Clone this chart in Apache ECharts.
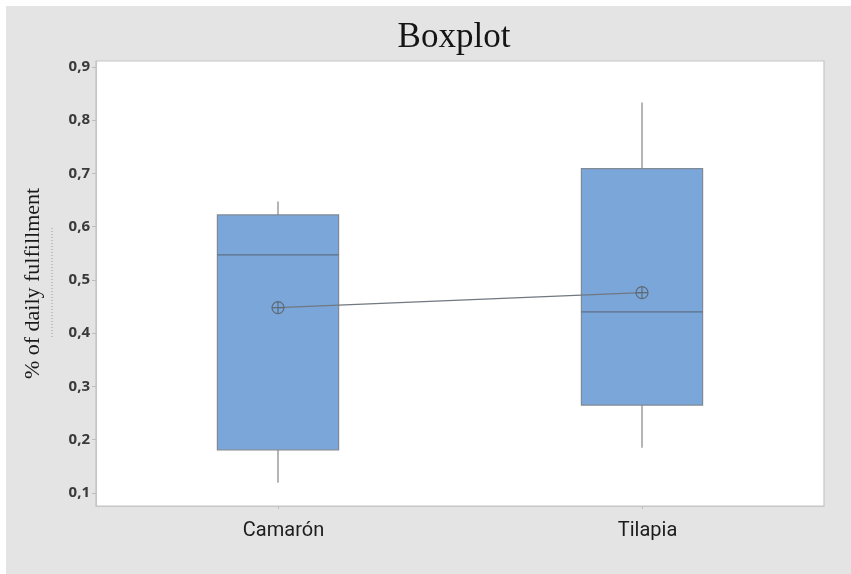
<!DOCTYPE html>
<html>
<head>
<meta charset="utf-8">
<script src="https://cdn.jsdelivr.net/npm/echarts@6/dist/echarts.min.js"></script>
<style>
  html, body { margin: 0; padding: 0; background: #ffffff; }
  #chart { width: 851px; height: 574px; }
</style>
</head>
<body>
<div id="chart"></div>
<script>
// Groups on the x axis
const categories = ['Camarón', 'Tilapia'];
// Five-number summaries per group: [min, Q1, median, Q3, max]
const camaronStats = [0.119, 0.181, 0.547, 0.622, 0.647];
const tilapiaStats = [0.185, 0.265, 0.440, 0.709, 0.833];
// Group means, joined by a line
const means = [0.448, 0.476];
// Y tick labels
const yTicks = [0.1, 0.2, 0.3, 0.4, 0.5, 0.6, 0.7, 0.8, 0.9];

const boxRows = [camaronStats, tilapiaStats].map((s, i) => [i].concat(s));

const chart = echarts.init(document.getElementById('chart'));

chart.setOption({
  backgroundColor: '#ffffff',
  animation: false,
  title: {
    text: 'Boxplot',
    left: 449,
    textAlign: 'center',
    top: 15,
    textStyle: { fontFamily: 'Liberation Serif', fontWeight: 'normal', fontSize: 35, color: '#151515' }
  },
  graphic: [
    { type: 'rect', z: -10, silent: true, shape: { x: 6, y: 6, width: 851, height: 574 }, style: { fill: '#e4e4e4' } },
    { type: 'line', z: 1, silent: true, shape: { x1: 52, y1: 228, x2: 52, y2: 338 }, style: { stroke: '#9a9a9a', lineWidth: 1, lineDash: [1, 2] } }
  ],
  grid: {
    left: 96, right: 27, top: 61, bottom: 68,
    show: true, backgroundColor: '#ffffff', borderColor: '#c6c6c6', borderWidth: 1.2
  },
  xAxis: {
    type: 'category',
    data: categories,
    boundaryGap: true,
    axisLine: { lineStyle: { color: '#c6c6c6', width: 1.2 } },
    axisTick: { show: true, alignWithLabel: true, length: 3, lineStyle: { color: '#bdbdbd' } },
    axisLabel: { margin: 15, padding: [0, 0, 0, 11], fontFamily: 'Roboto', fontSize: 20, color: '#1c1c1c' },
    splitLine: { show: false }
  },
  yAxis: {
    type: 'value',
    min: 0.0755,
    max: 0.911,
    name: '% of daily fulfillment',
    nameLocation: 'middle',
    nameRotate: 90,
    nameGap: 52,
    nameTextStyle: { fontFamily: 'Liberation Serif', fontSize: 22, color: '#1a1a1a' },
    axisLine: { show: true, lineStyle: { color: '#c6c6c6', width: 1.2 } },
    axisTick: { show: true, length: 4, customValues: yTicks, lineStyle: { color: '#bdbdbd' } },
    axisLabel: {
      customValues: yTicks,
      margin: 6,
      fontFamily: 'Open Sans', fontWeight: 'bold', fontSize: 15, color: '#3a3a3a',
      formatter: v => v.toFixed(1).replace('.', ',')
    },
    splitLine: { show: false }
  },
  series: [
    {
      type: 'custom',
      data: boxRows,
      encode: { x: 0, y: [1, 2, 3, 4, 5] },
      z: 2,
      renderItem: function (params, api) {
        const c = api.value(0);
        const pMin = api.coord([c, api.value(1)]);
        const pQ1 = api.coord([c, api.value(2)]);
        const pMed = api.coord([c, api.value(3)]);
        const pQ3 = api.coord([c, api.value(4)]);
        const pMax = api.coord([c, api.value(5)]);
        const w = api.size([1, 0])[0] * 0.333;
        const x0 = pMed[0] - w / 2;
        return {
          type: 'group',
          children: [
            { type: 'line', shape: { x1: pMed[0], y1: pQ3[1], x2: pMed[0], y2: pMax[1] }, style: { stroke: '#a3a3a3', lineWidth: 1.6 } },
            { type: 'line', shape: { x1: pMed[0], y1: pQ1[1], x2: pMed[0], y2: pMin[1] }, style: { stroke: '#a3a3a3', lineWidth: 1.6 } },
            { type: 'rect', shape: { x: x0, y: pQ3[1], width: w, height: pQ1[1] - pQ3[1] }, style: { fill: '#7ba6d9', stroke: '#7f8a96', lineWidth: 1.2 } },
            { type: 'line', shape: { x1: x0, y1: pMed[1], x2: x0 + w, y2: pMed[1] }, style: { stroke: '#5d6f86', lineWidth: 1.4 } }
          ]
        };
      }
    },
    {
      type: 'line',
      data: means,
      z: 3,
      symbol: 'path://M0,6 A6,6 0 1,1 12,6 A6,6 0 1,1 0,6 Z M6,0 L6,12 M0,6 L12,6',
      symbolSize: 12,
      itemStyle: { color: 'transparent', borderColor: '#5e6a78', borderWidth: 1.2 },
      lineStyle: { color: '#707880', width: 1.3 }
    }
  ]
});
</script>
</body>
</html>
